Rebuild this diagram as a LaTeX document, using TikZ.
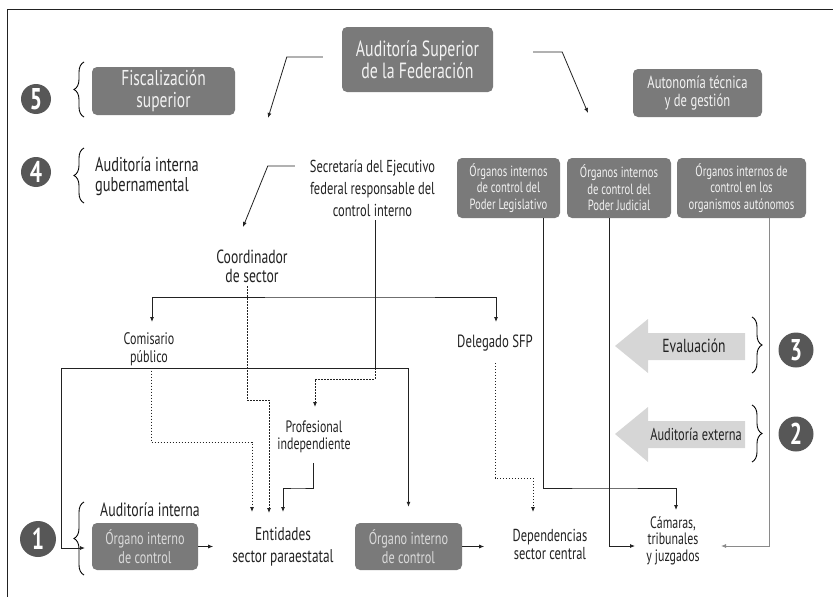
\documentclass[tikz,border=0pt]{standalone}
\usepackage{fontspec}
\setmainfont{PT Sans}[FakeStretch=0.72]
\usetikzlibrary{arrows.meta,decorations.pathreplacing}
\definecolor{boxgray}{HTML}{7A7A7A}
\definecolor{boxtext}{HTML}{F2F2F2}
\definecolor{oictext}{HTML}{DADADA}
\definecolor{numgray}{HTML}{575757}
\definecolor{linegray}{HTML}{222222}
\definecolor{autgray}{HTML}{8A8A8A}
\definecolor{bigarrow}{HTML}{D6D6D6}
\newcommand{\fsz}[2]{\fontsize{#1}{#2}\selectfont}

\begin{document}
\begin{tikzpicture}[x=1pt,y=-1pt]
\tikzset{every node/.append style={inner sep=0pt, text=linegray},
  graybox/.style={rounded corners=5pt, fill=boxgray, text=boxtext, align=center},
  numdot/.style={circle, fill=numgray, text=white, font=\fsz{30}{30}\bfseries},
  conn/.style={draw=linegray, line width=0.8pt},
  tip/.style={-{Latex[length=5pt,width=4pt]}},
  arr/.style={conn, tip},
  dots/.style={conn, dash pattern=on 1.6pt off 1.4pt},
  darr/.style={dots, tip},
  curly/.style={draw=black, line width=0.9pt, decorate, decoration={brace, amplitude=10pt}},
  lbl/.style={align=center, anchor=north}}
\useasboundingbox (0,0) rectangle (833,597);
\draw[linegray, line width=1pt] (7,597) -- (7,9) -- (833,9);

\node[numdot, minimum size=30pt] (n5) at (36,99) {5};
\node[numdot, minimum size=30pt] (n4) at (36,172) {4};
\node[numdot, minimum size=36pt] (n1) at (38,539) {1};
\node[numdot, minimum size=35pt] (n3) at (796,350) {3};
\node[numdot, minimum size=35pt] (n2) at (796,434) {2};
\draw[curly] (84,117) -- (84,62);
\draw[curly] (84,203) -- (84,148);
\draw[curly] (84,575) -- (84,502);
\draw[curly] (752,317) -- (752,373);
\draw[curly] (752,405) -- (752,462);

\node[graybox, minimum width=143pt, minimum height=48pt, font=\fsz{21.5}{21.5}] (fisc) at (163.5,91) {Fiscalización\\superior};
\node[graybox, minimum width=151pt, minimum height=65pt, font=\fsz{22}{22}] (asf) at (417.5,59.5) {Auditoría Superior\\de la Federación};
\node[graybox, minimum width=129pt, minimum height=48pt, font=\fsz{17.5}{17.5}] (auto) at (697.5,93) {Autonomía técnica\\y de gestión};
\node[graybox, minimum width=103pt, minimum height=60pt, font=\fsz{14.8}{16.5}] (leg) at (508.5,188) {Órganos internos\\de control del\\Poder Legislativo};
\node[graybox, minimum width=104pt, minimum height=60pt, font=\fsz{14.8}{16.5}] (jud) at (619,188) {Órganos internos\\de control del\\Poder Judicial};
\node[graybox, minimum width=129pt, minimum height=60pt, font=\fsz{14.8}{16.5}] (aut) at (741.5,188) {Órganos internos de\\control en los\\organismos autónomos};
\node[graybox, text=oictext, minimum width=106pt, minimum height=47pt, font=\fsz{17}{19}] (oic1) at (145,546.5) {Órgano interno\\de control};
\node[graybox, text=oictext, minimum width=107pt, minimum height=47pt, font=\fsz{17}{19}] (oic2) at (408.5,546.5) {Órgano interno\\de control};

\node[align=left, anchor=north west, font=\fsz{20}{20}] (aig) at (95,157) {Auditoría interna\\gubernamental};
\node[lbl, font=\fsz{17.3}{22}] (sec) at (372.5,160) {Secretaría del Ejecutivo\\federal responsable del\\control interno};
\node[lbl, font=\fsz{19}{19}] (coord) at (252,250) {Coordinador\\de sector};
\node[lbl, font=\fsz{16.7}{18}] (comis) at (149,332) {Comisario\\público};
\node[lbl, font=\fsz{17.7}{18}] (deleg) at (495,335) {Delegado SFP};
\node[lbl, font=\fsz{16.5}{16.5}] (prof) at (314,421) {Profesional\\independiente};
\node[lbl, font=\fsz{19.2}{22}] (ainterna) at (150,502) {Auditoría interna};
\node[lbl, font=\fsz{18.5}{22}] (entid) at (283,527) {Entidades\\sector paraestatal};
\node[lbl, font=\fsz{17.3}{18}] (depend) at (550,529) {Dependencias\\sector central};
\node[lbl, font=\fsz{16.5}{16.5}] (cam) at (673,516) {Cámaras,\\tribunales\\y juzgados};

\fill[bigarrow] (615,346) -- (648,319) -- (648,333) -- (745,333) -- (745,360) -- (648,360) -- (648,373) -- cycle;
\node[font=\fsz{18.9}{18.9}] (eval) at (694,346) {Evaluación};
\fill[bigarrow] (615,434) -- (648,407) -- (648,421) -- (745,421) -- (745,448) -- (648,448) -- (648,462) -- cycle;
\node[font=\fsz{17.2}{17.2}] (ext) at (696,434) {Auditoría externa};

\coordinate (fiscTip) at (268,118);
\coordinate (autoTip) at (588,113);
\coordinate (coordTip) at (243,227);
\coordinate (bar) at (375,297);
\coordinate (junc) at (375,368);
\coordinate (cdbend) at (258,400);
\coordinate (cpbend) at (200,442);
\coordinate (pfbend) at (298,488);
\coordinate (dsbend) at (514,478);
\coordinate (lgbend) at (600,488);
\coordinate (boxL) at (61,368);
\coordinate (onein) at (85,548);

\draw[arr] ([xshift=-19pt,yshift=2.5pt]asf.west) -- ++(-36,0) -- (fiscTip);
\draw[arr] ([xshift=40pt,yshift=7.5pt]asf.east) -- ++(29,0) -- (autoTip);
\draw[arr] ([xshift=-15pt,yshift=-6pt]sec.north west) -- ++(-27,0) -- (coordTip);
\draw[conn] ([xshift=2.5pt,yshift=-3pt]sec.south) |- (junc);
\draw[darr] (junc) -- ++(0,11) -| ([xshift=1pt,yshift=14pt]prof.north);
\draw[conn, {Latex[length=5pt,width=4pt]}-{Latex[length=5pt,width=4pt]}] ([xshift=3pt,yshift=10pt]comis.north) |- (bar) -| ([xshift=1pt,yshift=13pt]deleg.north);
\draw[darr] ([xshift=-5pt,yshift=-3pt]coord.south) |- (cdbend) -| ([xshift=-14pt,yshift=14pt]entid.north);
\draw[darr] ([xshift=2pt,yshift=-5pt]comis.south) |- (cpbend) -| ([xshift=-31pt,yshift=15pt]entid.north);
\draw[arr] ([xshift=-1pt,yshift=-10pt]prof.south) |- (pfbend) -| ([yshift=15pt]entid.north);
\draw[conn, {Latex[length=5pt,width=4pt]}-{Latex[length=5pt,width=4pt]}] (onein) -| (boxL) -| ([yshift=16pt]oic2.north);
\draw[arr] (oic1.east) -- ++(15,0);
\draw[arr] (oic2.east) -- ++(22,0);
\draw[darr] ([yshift=-11pt]deleg.south) |- (dsbend) -| ([xshift=-17pt,yshift=17pt]depend.north);
\draw[arr] ([xshift=34.5pt]leg.south) |- (lgbend) -| ([xshift=3pt,yshift=6pt]cam.north);
\draw[arr] ([xshift=-10pt]jud.south) |- ([xshift=-38pt,yshift=-30pt]cam.north);
\draw[arr, draw=autgray] ([xshift=27.5pt]aut.south) |- ([xshift=48pt,yshift=-30pt]cam.north);
\end{tikzpicture}
\end{document}
